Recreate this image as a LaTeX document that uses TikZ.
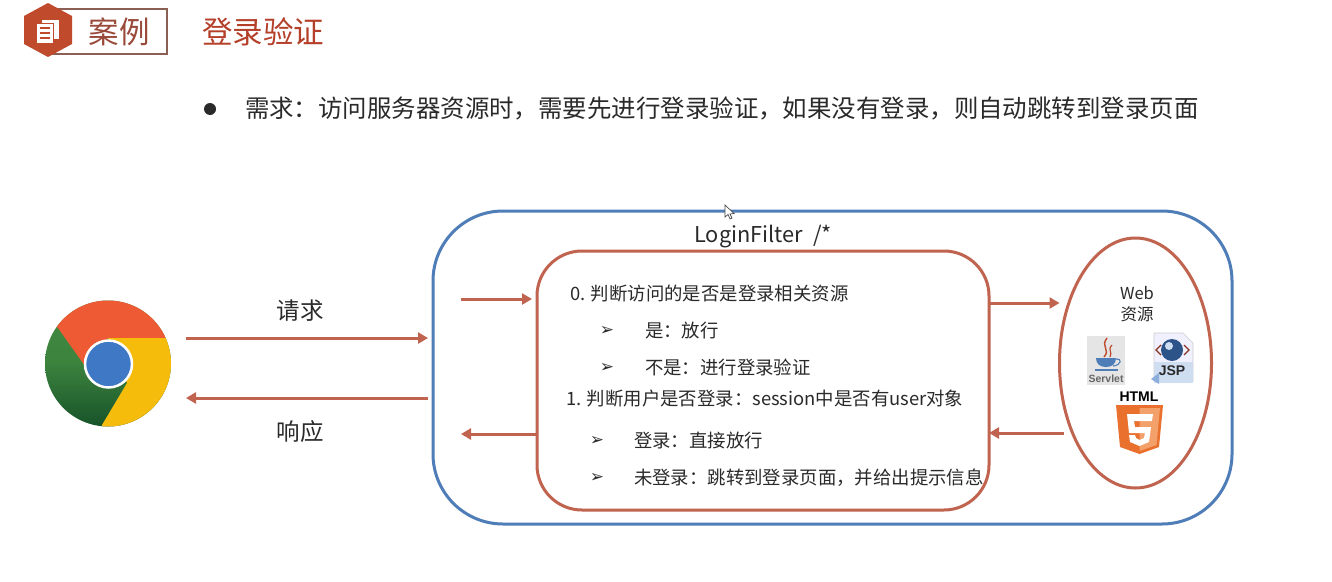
\documentclass[tikz,border=0pt]{standalone}
\usepackage{fontspec}
\usetikzlibrary{arrows.meta,shapes.geometric}
\setmainfont{Noto Sans CJK SC}
\newfontfamily\djv{DejaVu Sans}
\newfontfamily\lib{Liberation Sans}
\definecolor{redline}{HTML}{C0634F}
\definecolor{blueline}{HTML}{4E7DB8}
\definecolor{ink}{HTML}{2A2A2A}
\definecolor{titlered}{HTML}{B5402A}
\definecolor{hexred}{HTML}{C04A2C}
\definecolor{tagline}{HTML}{8C5F55}
\definecolor{tagtext}{HTML}{9A4A3A}
\definecolor{cred}{HTML}{EE5A33}
\definecolor{cgreen}{HTML}{438C42}
\definecolor{cdgreen}{HTML}{155028}
\definecolor{cyellow}{HTML}{F6BC0C}
\definecolor{cblue}{HTML}{3F78C4}
\definecolor{hfive}{HTML}{E9702D}
\definecolor{hfivel}{HTML}{F4A06A}
\tikzset{
 x=1pt,y=-1pt,
 flow/.style={draw=redline,line width=3pt,-{Triangle[length=10pt,width=11pt]}},
 body/.style={anchor=base west,inner sep=0pt,outer sep=0pt,text=ink,font=\fontsize{18.4}{18.4}\selectfont},
 big/.style={anchor=base west,inner sep=0pt,outer sep=0pt,text=ink,font=\fontsize{24.45}{24.45}\selectfont},
 lab/.style={anchor=center,inner sep=0pt,text=ink,font=\fontsize{23.5}{23.5}\selectfont},
 tip/.style={anchor=center,inner sep=0pt,text=ink,font=\djv\bfseries\fontsize{17}{17}\selectfont},
 spot/.style={inner sep=0pt,outer sep=0pt},
}
\begin{document}
\begin{tikzpicture}
\useasboundingbox (0,0) rectangle (1332,581);
\fill[white] (0,0) rectangle (1332,581);
% header
\draw[tagline,line width=1.5pt] (48,9) rectangle (167,54);
\fill[hexred] (48,3) -- (72,16) -- (72,44) -- (48,57) -- (24,44) -- (24,16) -- cycle;
\fill[white] (42,20) rectangle (59,39);
\fill[white,draw=hexred,line width=1pt] (36,23) rectangle (53,43);
\draw[hexred,line width=1.3pt] (39.5,28)--(49.5,28) (39.5,33)--(49.5,33) (39.5,38)--(49.5,38);
\node[anchor=center,inner sep=0pt,text=tagtext,font=\fontsize{30.5}{30.5}\selectfont] (casetag) at (119,32) {案例};
\node[anchor=center,inner sep=0pt,text=titlered,font=\fontsize{30.5}{30.5}\selectfont] (title) at (263,32) {登录验证};
\fill[ink] (210,109) circle (6);
\node[big] (req) at (245,117) {需求：访问服务器资源时，需要先进行登录验证，如果没有登录，则自动跳转到登录页面};
% chrome
\begin{scope}
\clip (108,363.5) circle (63);
\shade[top color=cgreen,bottom color=cdgreen,middle color=cgreen!85!cdgreen] (40,295) rectangle (175,430);
\fill[cred] (40,295) -- (175,295) -- (175,338) -- (108,338) -- (85,366) -- (58,328) -- (40,310) -- cycle;
\fill[cyellow] (108,338) -- (175,338) -- (175,430) -- (102,430) -- (102,425) -- (127,383) -- cycle;
\end{scope}
\fill[cblue,draw=white,line width=2.5pt] (108.5,364) circle (23.5);
% boxes
\node[draw=blueline,line width=3pt,rounded corners=70pt,minimum width=799pt,minimum height=313pt,spot] (outer) at (832.5,367.5) {};
\node[draw=redline,line width=3pt,rounded corners=45pt,minimum width=452pt,minimum height=259pt,spot] (filter) at (763,380.5) {};
\node[draw=redline,line width=3pt,ellipse,minimum width=152pt,minimum height=250pt,spot] (web) at (1135.5,363) {};
\node[anchor=center,inner sep=0pt,text=ink,font=\fontsize{21.8}{21.8}\selectfont] (lf) at (763,237) {LoginFilter~~/*};
% inner text
\node[body] (t0) at (570,300) {0. 判断访问的是否是登录相关资源};
\node[tip] (a1) at (607,331) {➢};
\node[body] (t1) at (645,337) {是：放行};
\node[tip] (a2) at (607,368) {➢};
\node[body] (t2) at (645,374) {不是：进行登录验证};
\node[body] (t3) at (566,405) {1. 判断用户是否登录：session中是否有user对象};
\node[tip] (a3) at (597,441) {➢};
\node[body] (t4) at (634,447) {登录：直接放行};
\node[tip] (a4) at (597,478) {➢};
\node[body] (t5) at (634,484) {未登录：跳转到登录页面，并给出提示信息};
% web resources
\node[anchor=center,inner sep=0pt,text=ink,font=\fontsize{16.5}{16.5}\selectfont] (w1) at (1137,293) {Web};
\node[anchor=center,inner sep=0pt,text=ink,font=\fontsize{16.5}{16.5}\selectfont] (w2) at (1137,314) {资源};
% servlet icon
\fill[black!10] (1087,336) rectangle (1125,385);
\draw[hexred,line width=1.4pt] (1107,338) .. controls (1100,347) and (1111,349) .. (1104,357);
\draw[hexred,line width=1.2pt] (1112,345) .. controls (1107,350) and (1113,352) .. (1110,357);
\fill[blueline] (1096,358) -- (1116,358) .. controls (1116,364) and (1112,367) .. (1106,367) .. controls (1100,367) and (1096,364) .. (1096,358) -- cycle;
\draw[blueline,line width=1.1pt] (1116,359) .. controls (1122,358) and (1122,365) .. (1113,366);
\draw[blueline,line width=1.3pt] (1095,370) -- (1118,370);
\node[anchor=center,inner sep=0pt,text=black!60,font=\lib\bfseries\fontsize{10.5}{10.5}\selectfont] (sv) at (1106,379) {Servlet};
% jsp icon
\fill[blue!6,draw=black!20,line width=.6pt] (1154,333) -- (1183,333) -- (1193,343) -- (1193,381) -- (1154,381) -- cycle;
\fill[cblue!25] (1154,362) rectangle (1193,383);
\fill[cblue!60] (1151,379) -- (1159,373) -- (1159,384) -- cycle;
\fill[cblue!70!black] (1172,350) circle (11);
\fill[cblue!25] (1169,346) circle (4);
\draw[hexred!70!black,line width=1.2pt] (1161,345) -- (1156,350) -- (1161,355);
\draw[hexred!70!black,line width=1.2pt] (1184,345) -- (1189,350) -- (1184,355);
\node[anchor=center,inner sep=0pt,text=ink,font=\lib\bfseries\fontsize{14}{14}\selectfont] (jsp) at (1172,371) {JSP};
% html5
\node[anchor=center,inner sep=0pt,text=black,font=\lib\bfseries\fontsize{14}{14}\selectfont] (h5) at (1139,397) {HTML};
\fill[hfive] (1116,405) -- (1163,405) -- (1159,447) -- (1139.5,454) -- (1120,447) -- cycle;
\fill[hfivel] (1139.5,408) -- (1160,408) -- (1156.5,445) -- (1139.5,451) -- cycle;
\fill[white] (1127,414) -- (1153,414) -- (1152,421) -- (1134,421) -- (1135,427) -- (1151,427) -- (1149,442) -- (1139.5,446) -- (1130,442) -- (1129,435) -- (1135,435) -- (1136,438) -- (1139.5,440) -- (1144,438) -- (1145,433) -- (1129,433) -- cycle;
% cursor
\fill[white,draw=black!70,line width=.7pt] (725,205) -- (725,217) -- (728,214.5) -- (730,219) -- (732,218) -- (730,214) -- (734,213.5) -- cycle;
% connectors
\coordinate (bo) at (186,338);
\coordinate (bi) at (186,398);
\coordinate (ain) at (461,299);
\coordinate (aout) at (461,434);
\coordinate (wbackl) at (1064,433);
\coordinate (foutl) at (990,303);
\draw[flow] (bo) -- ([xshift=-5pt]outer.west |- bo);
\draw[flow] ([xshift=-5pt]outer.west |- bi) -- (bi);
\draw[flow] (ain) -- ([xshift=-5pt]filter.west |- ain);
\draw[flow] ([xshift=-1pt]filter.west |- aout) -- (aout);
\draw[flow] (foutl) -- (web.west |- foutl);
\draw[flow] (wbackl) -- (filter.east |- wbackl);
\node[lab] (reqlab) at (300,311) {请求};
\node[lab] (reslab) at (300,432) {响应};
\end{tikzpicture}
\end{document}
